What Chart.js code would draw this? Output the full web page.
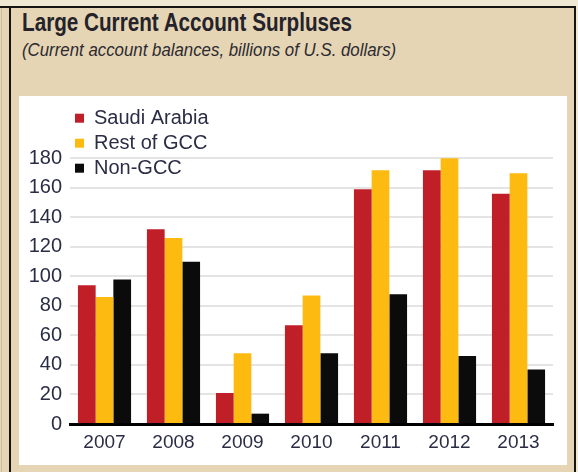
<!DOCTYPE html>
<html lang="en">
<head>
  <meta charset="UTF-8" />
  <title>Large Current Account Surpluses</title>
  <style>
    body {
      margin: 0;
      width: 578px;
      height: 472px;
      background: #f1e8d4;
      position: relative;
      overflow: hidden;
      font-family: "Liberation Sans", Arial, sans-serif;
    }
    .frame {
      position: absolute;
      left: 0;
      top: 6px;
      width: 574px;
      height: 466px;
      background: #e5d5b4;
      border-top: 2px solid #151515;
      border-right: 2px solid #151515;
    }
    .rule {
      position: absolute;
      left: 9px;
      top: 8px;
      width: 2px;
      height: 464px;
      background: #151515;
    }
    .edge {
      position: absolute;
      left: 1px;
      top: 8px;
      width: 1px;
      height: 464px;
      background: #c9bda3;
    }
    /* no narrow face installed, so squeeze the regular one */
    h1 {
      position: absolute;
      left: 22px;
      top: 8px;
      margin: 0;
      font-weight: bold;
      font-size: 25px;
      color: #24222a;
      white-space: nowrap;
      transform: scaleX(0.827);
      transform-origin: left top;
    }
    .sub {
      position: absolute;
      left: 22px;
      top: 40px;
      margin: 0;
      font-style: italic;
      font-size: 18px;
      color: #2c2a30;
      white-space: nowrap;
      transform: scaleX(0.935);
      transform-origin: left top;
    }
    .panel {
      position: absolute;
      left: 19px;
      top: 96px;
      width: 548px;
      height: 369px;
      background: #ffffff;
    }
  </style>
</head>
<body>

<div class="frame"></div>
<div class="edge"></div>
<div class="rule"></div>
<h1>Large Current Account Surpluses</h1>
<p class="sub">(Current account balances, billions of U.S. dollars)</p>

<div class="panel">
  <canvas id="surplusChart" width="548" height="369"></canvas>
</div>

<script src="https://cdn.jsdelivr.net/npm/chart.js"></script>
<script>
  const years = ['2007', '2008', '2009', '2010', '2011', '2012', '2013'];
  const saudiArabia = [94, 132, 21, 67, 159, 172, 156];
  const restOfGcc = [86, 126, 48, 87, 172, 180, 170];
  const nonGcc = [98, 110, 7, 48, 88, 46, 37];
  const yTicksMax = 180;

  const textColor = '#2b2d45';

  const ctx = document.getElementById('surplusChart').getContext('2d');
  new Chart(ctx, {
    type: 'bar',
    data: {
      labels: years,
      datasets: [{
        label: 'Saudi Arabia',
        data: saudiArabia,
        backgroundColor: '#c11f27'
      }, {
        label: 'Rest of GCC',
        data: restOfGcc,
        backgroundColor: '#fdbb12'
      }, {
        label: 'Non-GCC',
        data: nonGcc,
        backgroundColor: '#0b0b0b'
      }]
    },
    options: {
      responsive: false,
      animation: false,
      layout: { padding: { top: 24, right: 14, left: 0, bottom: 0 } },
      datasets: {
        bar: { categoryPercentage: 0.77, barPercentage: 1.0 }
      },
      plugins: {
        tooltip: { enabled: false },
        legend: {
          position: 'chartArea',
          align: 'start',
          // empty title only used as a spacer to push the entries down
          title: {
            display: true,
            text: '',
            font: { size: 1 },
            padding: { top: 0, bottom: 6 }
          },
          labels: {
            boxWidth: 9,
            boxHeight: 9,
            padding: 5,
            color: textColor,
            font: { family: 'Liberation Sans', size: 20 }
          }
        }
      },
      scales: {
        x: {
          grid: { display: false },
          border: { display: true, color: '#000000', width: 3 },
          ticks: {
            color: textColor,
            padding: -1,
            font: { family: 'Liberation Sans', size: 19 }
          },
          afterFit: s => { s.height = 41; }
        },
        y: {
          min: 0,
          max: 206,
          border: { display: false },
          grid: { color: '#e4e4e4', lineWidth: 2, drawTicks: false },
          ticks: {
            stepSize: 20,
            padding: 8,
            color: textColor,
            font: { family: 'Liberation Sans', size: 20 }
          },
          afterBuildTicks: s => { s.ticks = s.ticks.filter(t => t.value <= yTicksMax); },
          afterFit: s => { s.width = 51; }
        }
      }
    }
  });
</script>

</body>
</html>
